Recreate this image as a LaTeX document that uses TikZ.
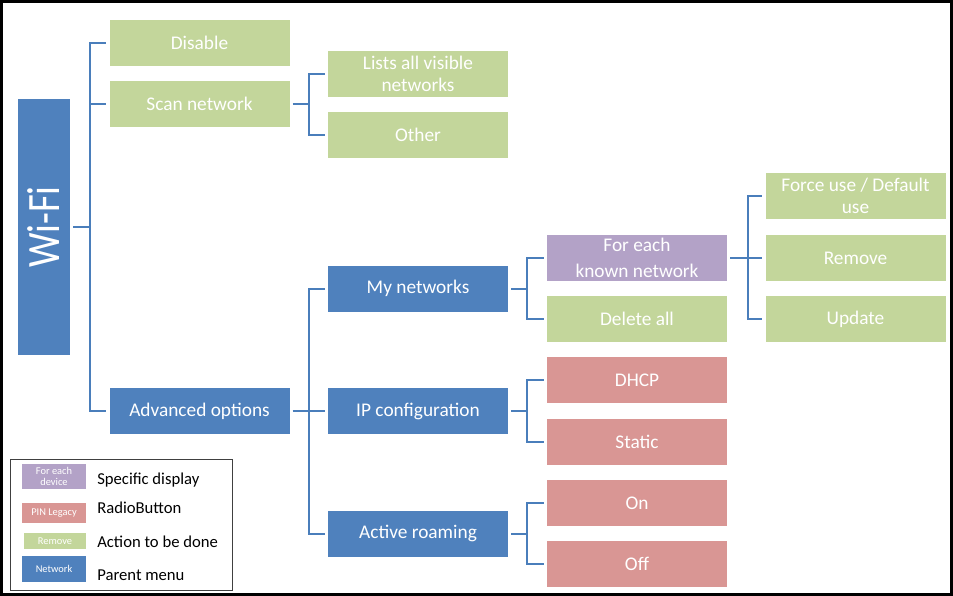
\documentclass[tikz,border=0pt]{standalone}
\usepackage{fontspec}
\setmainfont{Carlito}
\definecolor{menublue}{HTML}{4F81BD}
\definecolor{actgreen}{HTML}{C3D69B}
\definecolor{radiored}{HTML}{D99694}
\definecolor{specpurple}{HTML}{B3A2C7}
\definecolor{linkblue}{HTML}{4A7EBB}
\definecolor{framegray}{HTML}{404040}
\begin{document}
\begin{tikzpicture}[x=0.75pt,y=-0.75pt,
  box/.style={minimum width=135pt, minimum height=34.5pt, inner sep=0pt,
    align=center, text=white, font=\fontsize{14.5}{17}\selectfont},
  parent/.style={box, fill=menublue},
  action/.style={box, fill=actgreen},
  radio/.style={box, fill=radiored},
  special/.style={box, fill=specpurple},
  link/.style={draw=linkblue, line width=1.5pt, shorten <=2.25pt, shorten >=2.25pt},
  swatch/.style={minimum width=48pt, inner sep=0pt, text=white, align=center,
    font=\fontsize{7.8}{8.5}\selectfont},
  legtext/.style={anchor=base west, inner sep=0pt, font=\fontsize{12.5}{14}\selectfont}
]
\useasboundingbox (0,0) rectangle (953,596);
\draw[line width=2.25pt] (1.5,1.5) rectangle (951.5,594.5);

% root
\node[fill=menublue, minimum width=39pt, minimum height=192pt, inner sep=0pt] (wifi) at (44,227) {};
\node[rotate=90, text=white, inner sep=0pt, font=\fontsize{29}{30}\selectfont] (wifilabel) at (wifi.center) {\scalebox{1}[1.2]{Wi-Fi}};

% first level
\node[action] (disable) at (199.5,42.5) {Disable};
\node[action] (scan) at (199.5,104) {Scan network};
\node[parent] (advanced) at (199.5,411) {Advanced options};

% scan branch
\node[action] (lists) at (418,74) {Lists all visible\\networks};
\node[action] (other) at (418,135) {Other};

% advanced branch
\node[parent] (mynet) at (418,288.5) {My networks};
\node[parent] (ipconf) at (418,411) {IP configuration};
\node[parent] (roaming) at (418,533.5) {Active roaming};

\node[special, font=\fontsize{14.5}{19}\selectfont] (foreach) at (637,258) {For each\\known network};
\node[action] (deleteall) at (637,319) {Delete all};
\node[radio] (dhcp) at (637,380) {DHCP};
\node[radio] (static) at (637,442) {Static};
\node[radio] (on) at (637,503) {On};
\node[radio] (off) at (637,564) {Off};

\node[action] (force) at (855.5,196) {Force use / Default\\use};
\node[action] (remove) at (855.5,258) {Remove};
\node[action] (update) at (855.5,319) {Update};

% connectors
\draw[link] (wifi.east) -- ++(20,0) |- (disable.west);
\draw[link] (wifi.east) -- ++(20,0) |- (scan.west);
\draw[link] (wifi.east) -- ++(20,0) |- (advanced.west);

\draw[link] (scan.east) -- ++(19,0) |- (lists.west);
\draw[link] (scan.east) -- ++(19,0) |- (other.west);

\draw[link] (advanced.east) -- ++(19,0) |- (mynet.west);
\draw[link] (advanced.east) -- ++(19,0) |- (ipconf.west);
\draw[link] (advanced.east) -- ++(19,0) |- (roaming.west);

\draw[link] (mynet.east) -- ++(19,0) |- (foreach.west);
\draw[link] (mynet.east) -- ++(19,0) |- (deleteall.west);

\draw[link] (ipconf.east) -- ++(19,0) |- (dhcp.west);
\draw[link] (ipconf.east) -- ++(19,0) |- (static.west);

\draw[link] (roaming.east) -- ++(19,0) |- (on.west);
\draw[link] (roaming.east) -- ++(19,0) |- (off.west);

\draw[link] (foreach.east) -- ++(21,0) |- (force.west);
\draw[link] (foreach.east) -- ++(21,0) |- (remove.west);
\draw[link] (foreach.east) -- ++(21,0) |- (update.west);

% legend
\node[draw=framegray, line width=0.75pt, minimum width=166.5pt, minimum height=98.25pt, inner sep=0pt] (legend) at (121,524.5) {};
\node[swatch, fill=specpurple, minimum height=18.75pt] (swpurple) at (54,476.5) {For each\\device};
\node[swatch, fill=radiored, minimum height=15pt] (swred) at (54,513) {PIN Legacy};
\node[swatch, fill=actgreen, minimum width=46.5pt, minimum height=12pt] (swgreen) at (55,541) {Remove};
\node[swatch, fill=menublue, minimum height=19.5pt] (swblue) at (54,569) {Network};
\node[legtext] (lgpurple) at (97,484) {Specific display};
\node[legtext] (lgred) at (97,513) {RadioButton};
\node[legtext] (lggreen) at (97,547) {Action to be done};
\node[legtext] (lgblue) at (97,580) {Parent menu};
\end{tikzpicture}
\end{document}
